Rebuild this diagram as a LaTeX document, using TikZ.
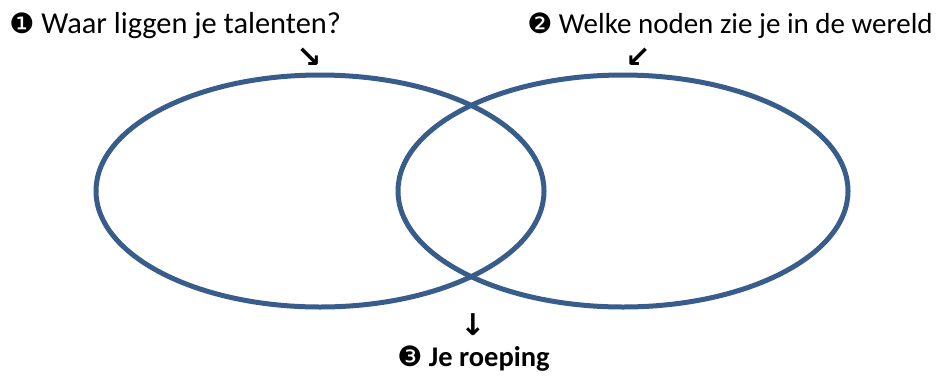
\documentclass[tikz,border=0pt]{standalone}
\usepackage{fontspec}
\setmainfont{Carlito}
\newfontfamily\dingfont{DejaVu Sans}
\usetikzlibrary{shapes,positioning}
\definecolor{ringblue}{RGB}{56,93,138}
\newcommand{\ding}[1]{{\dingfont\mdseries\fontsize{28}{32}\selectfont #1}}

\begin{document}
\begin{tikzpicture}[x=1pt,y=-1pt,semithick]
\tikzstyle{ring}=[ellipse,draw=ringblue,line width=5pt,inner sep=0pt,minimum width=448pt,minimum height=232pt]
\tikzstyle{question}=[inner sep=0pt,anchor=base west,font=\fontsize{30.4}{36}\selectfont]
\tikzstyle{pointer}=[inner sep=0pt,font=\dingfont\bfseries\fontsize{30}{34}\selectfont]
\useasboundingbox (0,0) rectangle (942,376);
% the two circles
\node[ring] (T) at (320,191) {};
\node[ring,minimum width=450pt] (N) at (623,191) {};
% questions and the answer
\node[question] (Q1) at (9,33) {\ding{❶} Waar liggen je talenten?};
\node[question,font=\fontsize{29}{36}\selectfont] (Q2) at (527,33) {\ding{❷} Welke noden zie je in de wereld};
\node[question,font=\bfseries\fontsize{28.5}{36}\selectfont] (R) at (397,366) {\ding{❸} Je roeping};
% little arrows
\node[pointer] (A1) at (309,58) {↘};
\node[pointer] (A2) at (638,58) {↙};
\node[pointer] (A3) at (473,325) {↓};
\end{tikzpicture}
\end{document}
